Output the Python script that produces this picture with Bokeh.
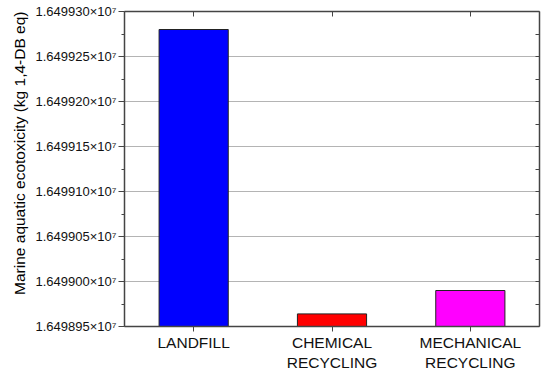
from bokeh.plotting import figure
from bokeh.models import (FactorRange, Range1d, SingleIntervalTicker, CustomJSTickFormatter,
                          LinearAxis, FixedTicker, ColumnDataSource, Title)
from bokeh.embed import file_html
from bokeh.resources import INLINE

categories = ["LANDFILL", "CHEMICAL\nRECYCLING", "MECHANICAL\nRECYCLING"]
values = [16499280, 16498964, 16498990]
colors = ["#0000FF", "#FF0000", "#FF00FF"]
y_label = "Marine aquatic ecotoxicity (kg 1,4-DB eq)"
y_min, y_max, y_step = 16498950, 16499300, 50

src = ColumnDataSource(dict(cat=categories, top=values, color=colors))

p = figure(x_range=FactorRange(*categories, range_padding=0),
           y_range=Range1d(y_min, y_max),
           width=546, height=373,
           output_backend="svg", toolbar_location=None,
           min_border_left=124, min_border_top=11, min_border_right=7, min_border_bottom=43)
p.outline_line_color = None
p.background_fill_color = "white"

p.vbar(x="cat", top="top", bottom=y_min, width=0.5, source=src,
       fill_color="color", line_color="#222222", line_width=1)

font = "Liberation Sans"
axis_color = "#444444"

# left axis
yax = p.yaxis[0]
yax.ticker = SingleIntervalTicker(interval=y_step, num_minor_ticks=2)
yax.formatter = CustomJSTickFormatter(code="return (tick/1e7).toFixed(6) + '\u00d710\u2077';")
yax.major_label_text_font = font
yax.major_label_text_font_size = "13px"
yax.major_label_text_color = "#111111"
yax.major_label_standoff = 2
yax.major_tick_out = 6
yax.major_tick_in = 0
yax.minor_tick_out = 3
yax.minor_tick_in = 0
yax.axis_line_color = axis_color
yax.major_tick_line_color = axis_color
yax.minor_tick_line_color = axis_color
yax.axis_line_width = 1.5

# y axis title, anchored toward the top as in the reference
p.add_layout(Title(text=y_label, align="right", standoff=10,
                   text_font=font, text_font_size="15.5px", text_font_style="normal",
                   text_color="black"), "left")

# bottom axis
xax = p.xaxis[0]
xax.major_label_text_font = font
xax.major_label_text_font_size = "15.5px"
xax.major_label_text_color = "#111111"
xax.major_label_text_line_height = 1.2
xax.major_label_standoff = 2
xax.major_tick_out = 5
xax.major_tick_in = 0
xax.axis_line_color = axis_color
xax.major_tick_line_color = axis_color
xax.axis_line_width = 1.5
xax.major_label_orientation = "horizontal"

# right axis: tick marks only (minor ticks carry no labels)
right_ticks = list(range(y_min, y_max + 1, y_step // 2))
rax = LinearAxis(ticker=FixedTicker(ticks=[], minor_ticks=right_ticks),
                 minor_tick_in=4, minor_tick_out=0, major_tick_in=0, major_tick_out=0,
                 axis_line_color=axis_color, minor_tick_line_color=axis_color,
                 axis_line_width=1.5)
p.add_layout(rax, "right")

# top axis: tick marks only at the category centres
n = len(categories)
top_ticks = [i + 0.5 for i in range(n)]
tax = LinearAxis(ticker=FixedTicker(ticks=[], minor_ticks=top_ticks),
                 minor_tick_in=5, minor_tick_out=0, major_tick_in=0, major_tick_out=0,
                 axis_line_color=axis_color, minor_tick_line_color=axis_color,
                 axis_line_width=1.5)
p.add_layout(tax, "above")

p.xgrid.grid_line_color = None
p.ygrid.grid_line_color = "#b4b4b4"
p.ygrid.grid_line_width = 1

open("out.html", "w").write(file_html(p, INLINE))
